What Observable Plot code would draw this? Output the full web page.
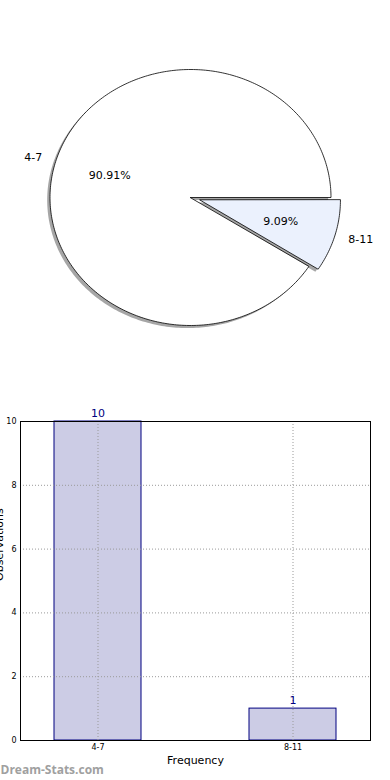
<!DOCTYPE html>
<html><head><meta charset="utf-8">
<script src="https://cdn.jsdelivr.net/npm/d3@7"></script>
<script src="https://cdn.jsdelivr.net/npm/@observablehq/plot@0.6"></script>
<style>
html,body{margin:0;padding:0;background:#fff;width:390px;height:780px;overflow:hidden;font-family:"DejaVu Sans",sans-serif;}
#chart svg{display:block}
</style></head><body><div id="chart"></div>
<script>
const categories = ["4-7", "8-11"];
const counts = [10, 1];
const explode = [0, 0.07];
const sliceFills = ["#ffffff", "#ebf1fd"];
const yTicks = [0, 2, 4, 6, 8, 10];
const xLabel = "Frequency";
const yLabel = "Observations";
const watermark = "Dream-Stats.com";

const total = d3.sum(counts);
let acc = 0;
const slices = categories.map((c, i) => {
  const a0 = acc / total * 2 * Math.PI; acc += counts[i];
  const a1 = acc / total * 2 * Math.PI; const mid = (a0 + a1) / 2;
  return {cat: c, i, a0, a1, mid,
    ox: explode[i] * Math.cos(mid), oy: explode[i] * Math.sin(mid),
    pct: (counts[i] / total * 100).toFixed(2) + "%"};
});
function polyOf(s, dx, dy) {
  const n = Math.max(4, Math.ceil((s.a1 - s.a0) / (Math.PI / 180)));
  const pts = [{x: s.ox + dx, y: s.oy + dy}];
  for (let j = 0; j <= n; j++) {
    const t = s.a0 + (s.a1 - s.a0) * j / n;
    pts.push({x: s.ox + dx + Math.cos(t), y: s.oy + dy + Math.sin(t)});
  }
  return pts;
}
const labelPts = slices.map(s => ({text: s.cat, x: s.ox + 1.1 * Math.cos(s.mid), y: s.oy + 1.1 * Math.sin(s.mid), anchor: Math.cos(s.mid) < 0 ? "end" : "start"}));
const pctPts = slices.map(s => ({text: s.pct, x: s.ox + 0.6 * Math.cos(s.mid), y: s.oy + 0.6 * Math.sin(s.mid)}));

const RX = 140.5, RY = 128, CX = 190, CY = 197, PH = 400;
const pieMarks = [];
slices.forEach(s => pieMarks.push(Plot.line(polyOf(s, -0.02, -0.02), {x: "x", y: "y", curve: "linear-closed", fill: "#4d4d4d", fillOpacity: 0.5, stroke: "none"})));
slices.forEach(s => pieMarks.push(Plot.line(polyOf(s, 0, 0), {x: "x", y: "y", curve: "linear-closed", fill: sliceFills[s.i], stroke: "black", strokeWidth: 0.8})));
pieMarks.push(Plot.text(labelPts.filter(d => d.anchor === "end"), {x: "x", y: "y", text: "text", textAnchor: "end", lineAnchor: "middle", fontSize: 11, fill: "black"}));
pieMarks.push(Plot.text(labelPts.filter(d => d.anchor === "start"), {x: "x", y: "y", text: "text", textAnchor: "start", lineAnchor: "middle", fontSize: 11, fill: "black"}));
pieMarks.push(Plot.text(pctPts, {x: "x", y: "y", text: "text", lineAnchor: "middle", fontSize: 11, fill: "black"}));

const pie = Plot.plot({
  width: 390, height: PH, margin: 0,
  style: {fontFamily: "DejaVu Sans", background: "white", overflow: "visible"},
  x: {domain: [-CX / RX, (390 - CX) / RX], range: [0, 390], axis: null},
  y: {domain: [-(PH - CY) / RY, CY / RY], range: [PH, 0], axis: null},
  marks: pieMarks
});

const barData = categories.map((c, i) => ({cat: c, n: counts[i]}));
const bar = Plot.plot({
  width: 390, height: 380, marginTop: 21, marginBottom: 40, marginLeft: 20, marginRight: 20,
  style: {fontFamily: "DejaVu Sans", background: "white", overflow: "visible"},
  x: {type: "band", domain: categories, paddingInner: 0.554, paddingOuter: 0.1744, axis: null},
  y: {domain: [0, 10], axis: null},
  marks: [
    Plot.barY(barData, {x: "cat", y: "n", fill: "#ccccE5", stroke: "#000080", strokeWidth: 1, insetLeft: 0, insetRight: 0}),
    Plot.gridY(yTicks, {stroke: "#9a9a9a", strokeOpacity: 1, strokeDasharray: "1,2"}),
    Plot.gridX(categories, {stroke: "#9a9a9a", strokeOpacity: 1, strokeDasharray: "1,2"}),
    Plot.frame({stroke: "black", strokeWidth: 1}),
    Plot.axisY(yTicks, {tickSize: 0, tickPadding: 4, fontSize: 8, label: null}),
    Plot.axisX(categories, {tickSize: 0, tickPadding: 4, fontSize: 8, label: null}),
    Plot.text(barData, {x: "cat", y: "n", text: d => String(d.n), dy: -5, lineAnchor: "bottom", fill: "#000080", fontSize: 11}),
    Plot.text([xLabel], {frameAnchor: "bottom", dy: 20, lineAnchor: "middle", fontSize: 11, fill: "black"}),
    Plot.text([yLabel], {frameAnchor: "left", dx: -18, rotate: -90, lineAnchor: "bottom", fontSize: 11, fill: "black"}),
    Plot.text([watermark], {frameAnchor: "bottom-left", dx: -20, dy: 30, textAnchor: "start", lineAnchor: "middle", fill: "#a0a0a0", fontWeight: "bold", fontSize: 12, fontFamily: "Open Sans"})
  ]
});
document.getElementById("chart").append(pie, bar);
</script></body></html>
